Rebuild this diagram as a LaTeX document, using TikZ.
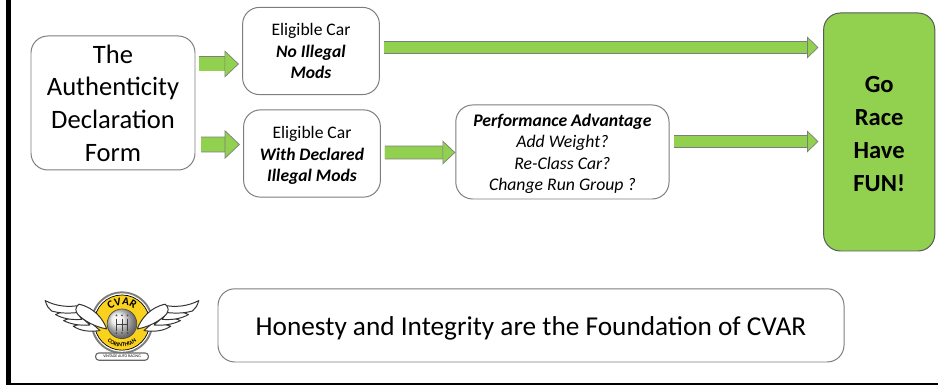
\documentclass[tikz,border=0pt]{standalone}
\usepackage{fontspec}
\setmainfont{Carlito}
\usetikzlibrary{arrows.meta,decorations.text}
\definecolor{raceGreen}{RGB}{146,208,80}
\definecolor{boxGray}{RGB}{125,125,125}
\definecolor{cvarYellow}{RGB}{250,210,30}
\newcommand{\topgap}[1]{\rule{0pt}{#1}}
\begin{document}
\begin{tikzpicture}[
every node/.style={align=center},
box/.style={draw=boxGray, line width=0.7pt, fill=white, rounded corners=0.42cm, inner sep=0pt},
flow/.style={draw=boxGray, line width=0.5pt, double=raceGreen, double distance=#1},
flow/.default=0.3cm,
tip/.style n args={2}{-{Triangle[length=#1,width=#2,fill=raceGreen,color=boxGray,line width=0.5pt]}},
feather/.style={draw=black!80, line width=0.7pt, fill=white, line join=round}
]
\useasboundingbox (0,0) rectangle (23.45,9.625);

% page edge
\fill[black] (0.16,0.05) rectangle (0.27,9.625);
\fill[black] (0.16,0) rectangle (23.45,0.06);

\node[box, minimum width=4.1cm, minimum height=3.35cm, font=\fontsize{18.9}{23.2}\selectfont] at (2.825,7.05) (form) {The\\Authenticity\\Declaration\\Form};
\node[box, minimum width=3.42cm, minimum height=2.18cm, font=\fontsize{12.5}{15.2}\selectfont] at (7.775,8.35) (car) {Eligible Car\\\textbf{\textit{No Illegal}}\\\textbf{\textit{Mods}}};
\node[box, minimum width=3.42cm, minimum height=2.18cm, font=\fontsize{12.5}{15.2}\selectfont] at (7.8,5.7875) (mods) {\topgap{11.5pt}Eligible Car\\\textbf{\textit{With Declared}}\\\textbf{\textit{Illegal Mods}}};
\node[box, minimum width=5.33cm, minimum height=2.35cm, font=\fontsize{12.6}{15.3}\selectfont] at (14.06,5.825) (perf) {\topgap{11.5pt}\textbf{\textit{Performance Advantage}}\\\textit{Add Weight?}\\\textit{Re-Class Car?}\\\textit{Change Run Group ?}};
\node[box, fill=raceGreen, draw=boxGray!70!black, minimum width=2.78cm, minimum height=5.95cm, font=\fontsize{17.5}{23.5}\selectfont\bfseries] at (21.98,6.325) (go) {\topgap{14.5pt}Go\\Race\\Have\\FUN!};
\node[box, minimum width=15.65cm, minimum height=1.83cm, font=\fontsize{19.4}{21}\selectfont] at (13.275,1.49) (motto) {\topgap{18pt}Honesty and Integrity are the Foundation of CVAR};

\draw[flow=0.34cm, tip={0.36cm}{0.68cm}, shorten <=0.08cm, shorten >=0.08cm] ([yshift=0.975cm]form.east) -- ([yshift=-0.325cm]car.west);
\draw[flow=0.36cm, tip={0.38cm}{0.72cm}, shorten <=0.14cm, shorten >=0.08cm] ([yshift=-1.0375cm]form.east) -- ([yshift=0.225cm]mods.west);
\draw[flow=0.31cm, tip={0.32cm}{0.6cm}, shorten <=0.1cm] ([yshift=0.025cm]mods.east) -- ([yshift=-0.0125cm]perf.west);
\draw[flow=0.27cm, tip={0.28cm}{0.55cm}, shorten <=0.1cm, shorten >=0.12cm] ([yshift=0.0875cm]car.east) -- ([yshift=2.1125cm]go.west);
\draw[flow=0.27cm, tip={0.28cm}{0.55cm}, shorten <=0.1cm, shorten >=0.12cm] ([yshift=0.2625cm]perf.east) -- ([yshift=-0.2375cm]go.west);

% logo
\begin{scope}[shift={(3.05,1.56)}]
\fill[boxGray] (0,0) circle (0.78);
\fill[white] (0,0) circle (0.73);
\draw[fill=cvarYellow, line width=0.5pt] (0,0) circle (0.69);
\path[decorate, decoration={text along path, text align=center, text={|\fontsize{8}{8}\selectfont\bfseries|CVAR}}] (150:0.44) arc (150:30:0.44);
\path[decorate, decoration={text along path, text align=center, text={|\fontsize{4.2}{5}\selectfont\bfseries|CORINTHIAN}}] (205:0.6) arc (205:335:0.6);
\foreach \s in {1,-1} {
\begin{scope}[xscale=\s]
\draw[feather] (0.55,-0.2) .. controls (0.85,-0.24) and (1.05,-0.2) .. (1.22,-0.09) .. controls (1.05,-0.03) and (0.9,-0.02) .. (0.75,-0.02) -- cycle;
\draw[feather] (0.8,-0.06) .. controls (1.1,-0.08) and (1.3,-0.03) .. (1.46,0.05) .. controls (1.35,0.11) and (1.2,0.12) .. (1.0,0.12) -- cycle;
\draw[feather] (1.0,0.08) .. controls (1.3,0.06) and (1.5,0.11) .. (1.66,0.2) .. controls (1.55,0.27) and (1.4,0.28) .. (1.15,0.28) -- cycle;
\draw[feather] (1.0,0.44) .. controls (1.35,0.37) and (1.65,0.41) .. (1.92,0.55) .. controls (1.88,0.42) and (1.84,0.35) .. (1.76,0.29) .. controls (1.55,0.23) and (1.35,0.23) .. (1.12,0.25) -- cycle;
\draw[feather] (0.38,-0.16) .. controls (0.48,0.1) and (0.7,0.38) .. (1.08,0.46) .. controls (1.18,0.38) and (1.17,0.28) .. (1.1,0.2) .. controls (0.95,0.05) and (0.7,-0.1) .. (0.38,-0.16) -- cycle;
\end{scope}
}
\draw[draw=black!60, fill=white, rounded corners=0.08cm, line width=0.8pt] (-0.66,-0.94) rectangle (0.66,-0.76);
\node[font=\fontsize{2.8}{3}\selectfont] at (0,-0.85) (tag) {VINTAGE AUTO RACING};
\shade[ball color=black!8, draw=black!70, line width=0.5pt] (0,-0.03) circle (0.37);
\draw[line width=0.7pt, black!75] (-0.14,0.1) -- (-0.14,-0.2) (0,0.1) -- (0,-0.2) (0.14,0.1) -- (0.14,-0.2) (-0.14,-0.05) -- (0.14,-0.05);
\foreach \x in {-0.14,0,0.14} {
\fill[black!70] (\x,0.18) circle (0.025);
\fill[black!70] (\x,-0.26) circle (0.025);
}
\end{scope}
\end{tikzpicture}
\end{document}
